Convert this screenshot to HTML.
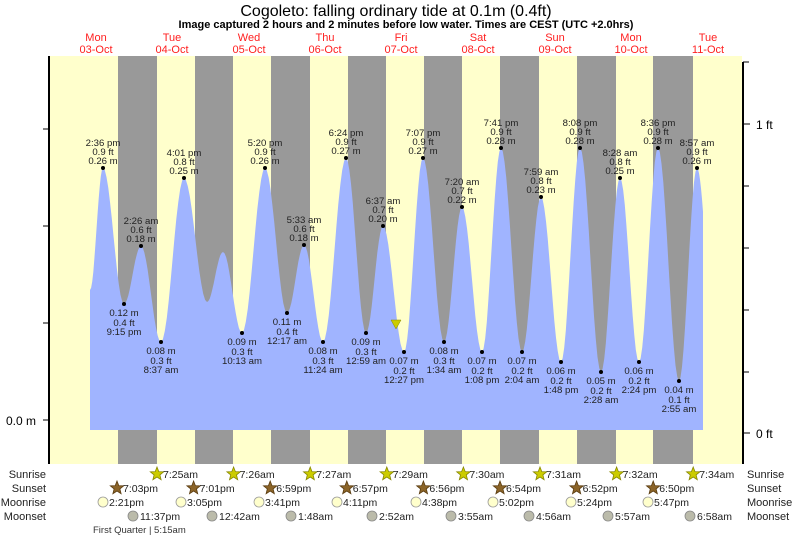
<!DOCTYPE html>
<html><head><meta charset="utf-8"><style>
body{margin:0;background:#fff;}
svg{display:block;font-family:"Liberation Sans",sans-serif;}
</style></head><body>
<svg id="s" width="793" height="537" viewBox="0 0 793 537">
<rect x="50" y="56" width="692" height="408" fill="#ffffcc"/>
<g fill="#999999">
<rect x="118" y="56" width="39" height="408"/><rect x="195" y="56" width="38" height="408"/>
<rect x="271" y="56" width="39" height="408"/><rect x="348" y="56" width="38" height="408"/>
<rect x="424" y="56" width="38" height="408"/><rect x="500" y="56" width="39" height="408"/>
<rect x="577" y="56" width="39" height="408"/><rect x="653" y="56" width="40" height="408"/>
</g>
<path id="tide" fill="#a0b4ff"/>
<polygon points="391,320 401,320 396,329" fill="#cccc00" stroke="#888800" stroke-width="0.5"/>
<line x1="49" y1="56" x2="49" y2="464" stroke="#000" stroke-width="2"/>
<line x1="743" y1="62" x2="743" y2="464" stroke="#000" stroke-width="2"/>
<g stroke="#000"><line x1="43" y1="129" x2="49" y2="129"/><line x1="43" y1="226" x2="49" y2="226"/><line x1="43" y1="323" x2="49" y2="323"/><line x1="43" y1="420" x2="49" y2="420"/>
<line x1="743" y1="62" x2="749" y2="62"/><line x1="743" y1="124" x2="750" y2="124"/><line x1="743" y1="186" x2="749" y2="186"/><line x1="743" y1="248" x2="749" y2="248"/><line x1="743" y1="310" x2="749" y2="310"/><line x1="743" y1="372" x2="749" y2="372"/><line x1="743" y1="433" x2="750" y2="433"/></g>
<text x="6" y="425" font-size="12">0.0 m</text>
<text x="756" y="129" font-size="12">1 ft</text>
<text x="756" y="438" font-size="12">0 ft</text>
<text x="396" y="16" font-size="16" text-anchor="middle">Cogoleto: falling  ordinary tide at 0.1m (0.4ft)</text>
<text x="406" y="28" font-size="11" font-weight="bold" text-anchor="middle">Image captured 2 hours and 2 minutes before low water. Times are CEST (UTC +2.0hrs)</text>
<g id="days" fill="#ff2020" font-size="11" text-anchor="middle"></g>
<g id="lab" font-size="9.6" fill="#222" text-anchor="middle"></g>
<g font-size="11" fill="#222"><text x="46" y="478" text-anchor="end">Sunrise</text><text x="46" y="492" text-anchor="end">Sunset</text><text x="46" y="506" text-anchor="end">Moonrise</text><text x="46" y="520" text-anchor="end">Moonset</text>
<text x="747" y="478">Sunrise</text><text x="747" y="492">Sunset</text><text x="747" y="506">Moonrise</text><text x="747" y="520">Moonset</text></g>
<text x="93" y="533" font-size="9.5" fill="#333">First Quarter | 5:15am</text>
<g id="ast" font-size="10.5" fill="#222"></g>
</svg>
<script>
var s=document.getElementById('s'),NS="http://www.w3.org/2000/svg";
function el(p,t,a,txt){var e=document.createElementNS(NS,t);for(var k in a)e.setAttribute(k,a[k]);if(txt!=null)e.textContent=txt;document.getElementById(p).appendChild(e);return e;}
var P=[[90,290],[103,168],[124,304],[141,246],[161,342],[184,178],[207,302],[223,252],[242,333],[265,168],[287,313],[304,245],[323,342],[346,158],[366,333],[383,226],[404,352],[423,158],[444,342],[462,207],[482,352],[501,148],[522,352],[541,197],[561,362],[580,148],[601,372],[620,178],[639,362],[658,148],[679,381],[697,168]];
var d="M90,430 L90,290";
for(var i=0;i<P.length-1;i++){var a=P[i],b=P[i+1];for(var t=1;t<=12;t++){var f=t/12,x=a[0]+(b[0]-a[0])*f,y=a[1]+(b[1]-a[1])*(1-Math.cos(Math.PI*f))/2;d+=" L"+x.toFixed(1)+","+y.toFixed(1);}}
var a=P[P.length-1];for(var t=1;t<=6;t++){var x=a[0]+t,y=a[1]+(380-a[1])*(1-Math.cos(Math.PI*(t/20)))/2;d+=" L"+x.toFixed(1)+","+y.toFixed(1);}
d+=" L703,430 Z";document.getElementById('tide').setAttribute('d',d);
var days=[["Mon","03-Oct",96],["Tue","04-Oct",172],["Wed","05-Oct",249],["Thu","06-Oct",325],["Fri","07-Oct",401],["Sat","08-Oct",478],["Sun","09-Oct",555],["Mon","10-Oct",631],["Tue","11-Oct",708]];
days.forEach(function(q){el('days','text',{x:q[2],y:41},q[0]);el('days','text',{x:q[2],y:53},q[1]);});
var H=[[103,168,"2:36 pm","0.9 ft","0.26 m"],[141,246,"2:26 am","0.6 ft","0.18 m"],[184,178,"4:01 pm","0.8 ft","0.25 m"],[265,168,"5:20 pm","0.9 ft","0.26 m"],[304,245,"5:33 am","0.6 ft","0.18 m"],[346,158,"6:24 pm","0.9 ft","0.27 m"],[383,226,"6:37 am","0.7 ft","0.20 m"],[423,158,"7:07 pm","0.9 ft","0.27 m"],[462,207,"7:20 am","0.7 ft","0.22 m"],[501,148,"7:41 pm","0.9 ft","0.28 m"],[541,197,"7:59 am","0.8 ft","0.23 m"],[580,148,"8:08 pm","0.9 ft","0.28 m"],[620,178,"8:28 am","0.8 ft","0.25 m"],[658,148,"8:36 pm","0.9 ft","0.28 m"],[697,168,"8:57 am","0.9 ft","0.26 m"]];
H.forEach(function(h){el('lab','circle',{cx:h[0],cy:h[1],r:2,fill:"#000"});el('lab','text',{x:h[0],y:h[1]-22},h[2]);el('lab','text',{x:h[0],y:h[1]-13},h[3]);el('lab','text',{x:h[0],y:h[1]-4},h[4]);});
var L=[[124,304,"0.12 m","0.4 ft","9:15 pm"],[161,342,"0.08 m","0.3 ft","8:37 am"],[242,333,"0.09 m","0.3 ft","10:13 am"],[287,313,"0.11 m","0.4 ft","12:17 am"],[323,342,"0.08 m","0.3 ft","11:24 am"],[366,333,"0.09 m","0.3 ft","12:59 am"],[404,352,"0.07 m","0.2 ft","12:27 pm"],[444,342,"0.08 m","0.3 ft","1:34 am"],[482,352,"0.07 m","0.2 ft","1:08 pm"],[522,352,"0.07 m","0.2 ft","2:04 am"],[561,362,"0.06 m","0.2 ft","1:48 pm"],[601,372,"0.05 m","0.2 ft","2:28 am"],[639,362,"0.06 m","0.2 ft","2:24 pm"],[679,381,"0.04 m","0.1 ft","2:55 am"]];
L.forEach(function(h){el('lab','circle',{cx:h[0],cy:h[1],r:2,fill:"#000"});el('lab','text',{x:h[0],y:h[1]+12},h[2]);el('lab','text',{x:h[0],y:h[1]+22},h[3]);el('lab','text',{x:h[0],y:h[1]+31},h[4]);});
function star(cx,cy,fill,stroke){var p=[];for(var i=0;i<10;i++){var r=i%2?3:7,an=-Math.PI/2+i*Math.PI/5;p.push((cx+r*Math.cos(an)).toFixed(1)+","+(cy+r*Math.sin(an)).toFixed(1));}el('ast','polygon',{points:p.join(" "),fill:fill,stroke:stroke,"stroke-width":0.8});}
var sr=["7:25am","7:26am","7:27am","7:29am","7:30am","7:31am","7:32am","7:34am"];
sr.forEach(function(t,k){var x=157+76.6*k;star(x,474,"#cccc00","#888800");el('ast','text',{x:x+6,y:478},t);});
var ss=["7:03pm","7:01pm","6:59pm","6:57pm","6:56pm","6:54pm","6:52pm","6:50pm"];
ss.forEach(function(t,k){var x=117+76.6*k;star(x,488,"#8b6428","#5a3c10");el('ast','text',{x:x+6,y:492},t);});
var mr=[[103,"2:21pm"],[181,"3:05pm"],[259,"3:41pm"],[337,"4:11pm"],[416,"4:38pm"],[493,"5:02pm"],[571,"5:24pm"],[648,"5:47pm"]];
mr.forEach(function(m){el('ast','circle',{cx:m[0],cy:502,r:5,fill:"#ffffcc",stroke:"#999","stroke-width":0.8});el('ast','text',{x:m[0]+6,y:506},m[1]);});
var ms=[[133,"11:37pm"],[212,"12:42am"],[291,"1:48am"],[372,"2:52am"],[451,"3:55am"],[529,"4:56am"],[608,"5:57am"],[690,"6:58am"]];
ms.forEach(function(m){el('ast','circle',{cx:m[0],cy:516,r:5,fill:"#bbbbaa",stroke:"#888","stroke-width":0.8});el('ast','text',{x:m[0]+7,y:520},m[1]);});
</script>
</body></html>
